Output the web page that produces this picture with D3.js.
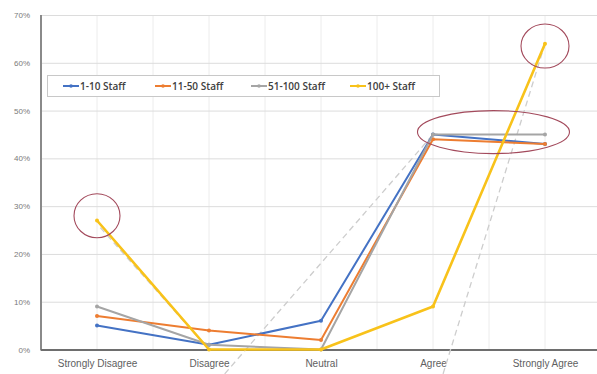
<!DOCTYPE html>
<html>
<head>
<meta charset="utf-8">
<script src="https://cdn.jsdelivr.net/npm/d3@7"></script>
<style>
  html, body { margin: 0; padding: 0; background: #fff; }
  svg { display: block; font-family: "Open Sans", "Liberation Sans", sans-serif; }
</style>
</head>
<body>
<svg id="chart" width="597" height="374"></svg>
<script>
// Survey responses by company size (share of respondents)
const categories = ["Strongly Disagree", "Disagree", "Neutral", "Agree", "Strongly Agree"];
const seriesNames = ["1-10 Staff", "11-50 Staff", "51-100 Staff", "100+ Staff"];
const staff1to10   = [0.05, 0.01, 0.06, 0.45, 0.43];
const staff11to50  = [0.07, 0.04, 0.02, 0.44, 0.43];
const staff51to100 = [0.09, 0.01, 0.00, 0.45, 0.45];
const staff100plus = [0.27, 0.00, 0.00, 0.09, 0.64];
const yTicks = [0, 0.1, 0.2, 0.3, 0.4, 0.5, 0.6, 0.7];

// Hand-drawn dashed guides: [category position, value] pairs
const guideLines = [
  [[0.03, 0.255], [1, 0.0]],
  [[1.14, -0.051], [3, 0.45]],
  [[3.09, -0.051], [4, 0.64]]
];
// Highlight rings: centre in [category position, value]
const highlights = [
  { at: [0, 0.28], rx: 23, ry: 22 },
  { at: [4, 0.635], rx: 24, ry: 22 },
  { at: [3.54, 0.455], rx: 76, ry: 21.5 }
];

const seriesValues = [staff1to10, staff11to50, staff51to100, staff100plus];
const colors = ["#4472C4", "#ED7D31", "#A5A5A5", "#F8C21A"];
const widths = [2, 2, 2, 2.6];

const svg = d3.select("#chart");
const plotLeft = 41, plotRight = 601, plotTop = 15, plotBottom = 349.5;

const x = d3.scalePoint().domain(categories).range([97, 545]);
const step = x.step();
const xPos = d => x(categories[0]) + d * step;
const y = d3.scaleLinear().domain([0, 0.7]).range([plotBottom, plotTop]);

// Gridlines (horizontal at ticks, vertical at and between categories)
const vx = d3.range(0, 10).map(i => plotLeft + i * step / 2);
svg.append("g").selectAll("line.v").data(vx).join("line")
  .attr("x1", d => d).attr("x2", d => d)
  .attr("y1", plotTop).attr("y2", plotBottom)
  .attr("stroke", "#ececec").attr("stroke-width", 1);

const yAxis = d3.axisLeft(y).tickValues(yTicks).tickFormat(d3.format(".0%"))
  .tickSize(-(plotRight - plotLeft)).tickPadding(11);
const gy = svg.append("g").attr("transform", `translate(${plotLeft},0)`).call(yAxis);
gy.select(".domain").remove();
gy.selectAll(".tick line").attr("stroke", "#dcdcdc").attr("stroke-width", 1);
gy.selectAll(".tick text").attr("fill", "#7a7a7a").style("font-size", "8px");

// Axis lines
svg.append("line").attr("x1", plotLeft).attr("x2", plotLeft)
  .attr("y1", plotTop).attr("y2", plotBottom + 1)
  .attr("stroke", "#8a8a8a").attr("stroke-width", 2);

const xAxis = d3.axisBottom(x).tickSize(0).tickPadding(10);
const gx = svg.append("g").attr("transform", `translate(0,${plotBottom})`).call(xAxis);
gx.select(".domain").remove();
gx.selectAll(".tick text").attr("fill", "#606060").style("font-size", "10px");
svg.append("line").attr("x1", plotLeft).attr("x2", plotRight)
  .attr("y1", plotBottom + 0.5).attr("y2", plotBottom + 0.5)
  .attr("stroke", "#6e6e6e").attr("stroke-width", 2);

// Dashed guides
svg.append("g").selectAll("line").data(guideLines).join("line")
  .attr("x1", d => xPos(d[0][0])).attr("y1", d => y(d[0][1]))
  .attr("x2", d => xPos(d[1][0])).attr("y2", d => y(d[1][1]))
  .attr("stroke", "#cdcdcd").attr("stroke-width", 1.3)
  .attr("stroke-dasharray", "6,4");

// Series lines with small markers
const line = d3.line().x((d, i) => x(categories[i])).y(d => y(d));
seriesValues.forEach((vals, s) => {
  const g = svg.append("g");
  g.append("path").datum(vals).attr("d", line)
    .attr("fill", "none").attr("stroke", colors[s])
    .attr("stroke-width", widths[s]).attr("stroke-linejoin", "round");
  g.selectAll("circle").data(vals).join("circle")
    .attr("cx", (d, i) => x(categories[i])).attr("cy", d => y(d))
    .attr("r", 2).attr("fill", colors[s]);
});

// Highlight rings
svg.append("g").selectAll("ellipse").data(highlights).join("ellipse")
  .attr("cx", d => xPos(d.at[0])).attr("cy", d => y(d.at[1]))
  .attr("rx", d => d.rx).attr("ry", d => d.ry)
  .attr("fill", "none").attr("stroke", "#a34a5c").attr("stroke-width", 1.1);

// Legend
const legend = svg.append("g");
legend.append("rect").attr("x", 47.5).attr("y", 75.5).attr("width", 392).attr("height", 21)
  .attr("fill", "#fff").attr("stroke", "#c8c8c8").attr("stroke-width", 1);
const legendX = [63, 155, 251, 350];
seriesNames.forEach((name, i) => {
  const lx = legendX[i];
  legend.append("line").attr("x1", lx).attr("x2", lx + 16)
    .attr("y1", 86).attr("y2", 86)
    .attr("stroke", colors[i]).attr("stroke-width", 2);
  legend.append("circle").attr("cx", lx + 8).attr("cy", 86).attr("r", 1.8).attr("fill", colors[i]);
  legend.append("text").attr("x", lx + 17).attr("y", 86).attr("dy", "0.35em")
    .attr("fill", "#404040").style("font-size", "10px").style("font-weight", "600")
    .text(name);
});
</script>
</body>
</html>
